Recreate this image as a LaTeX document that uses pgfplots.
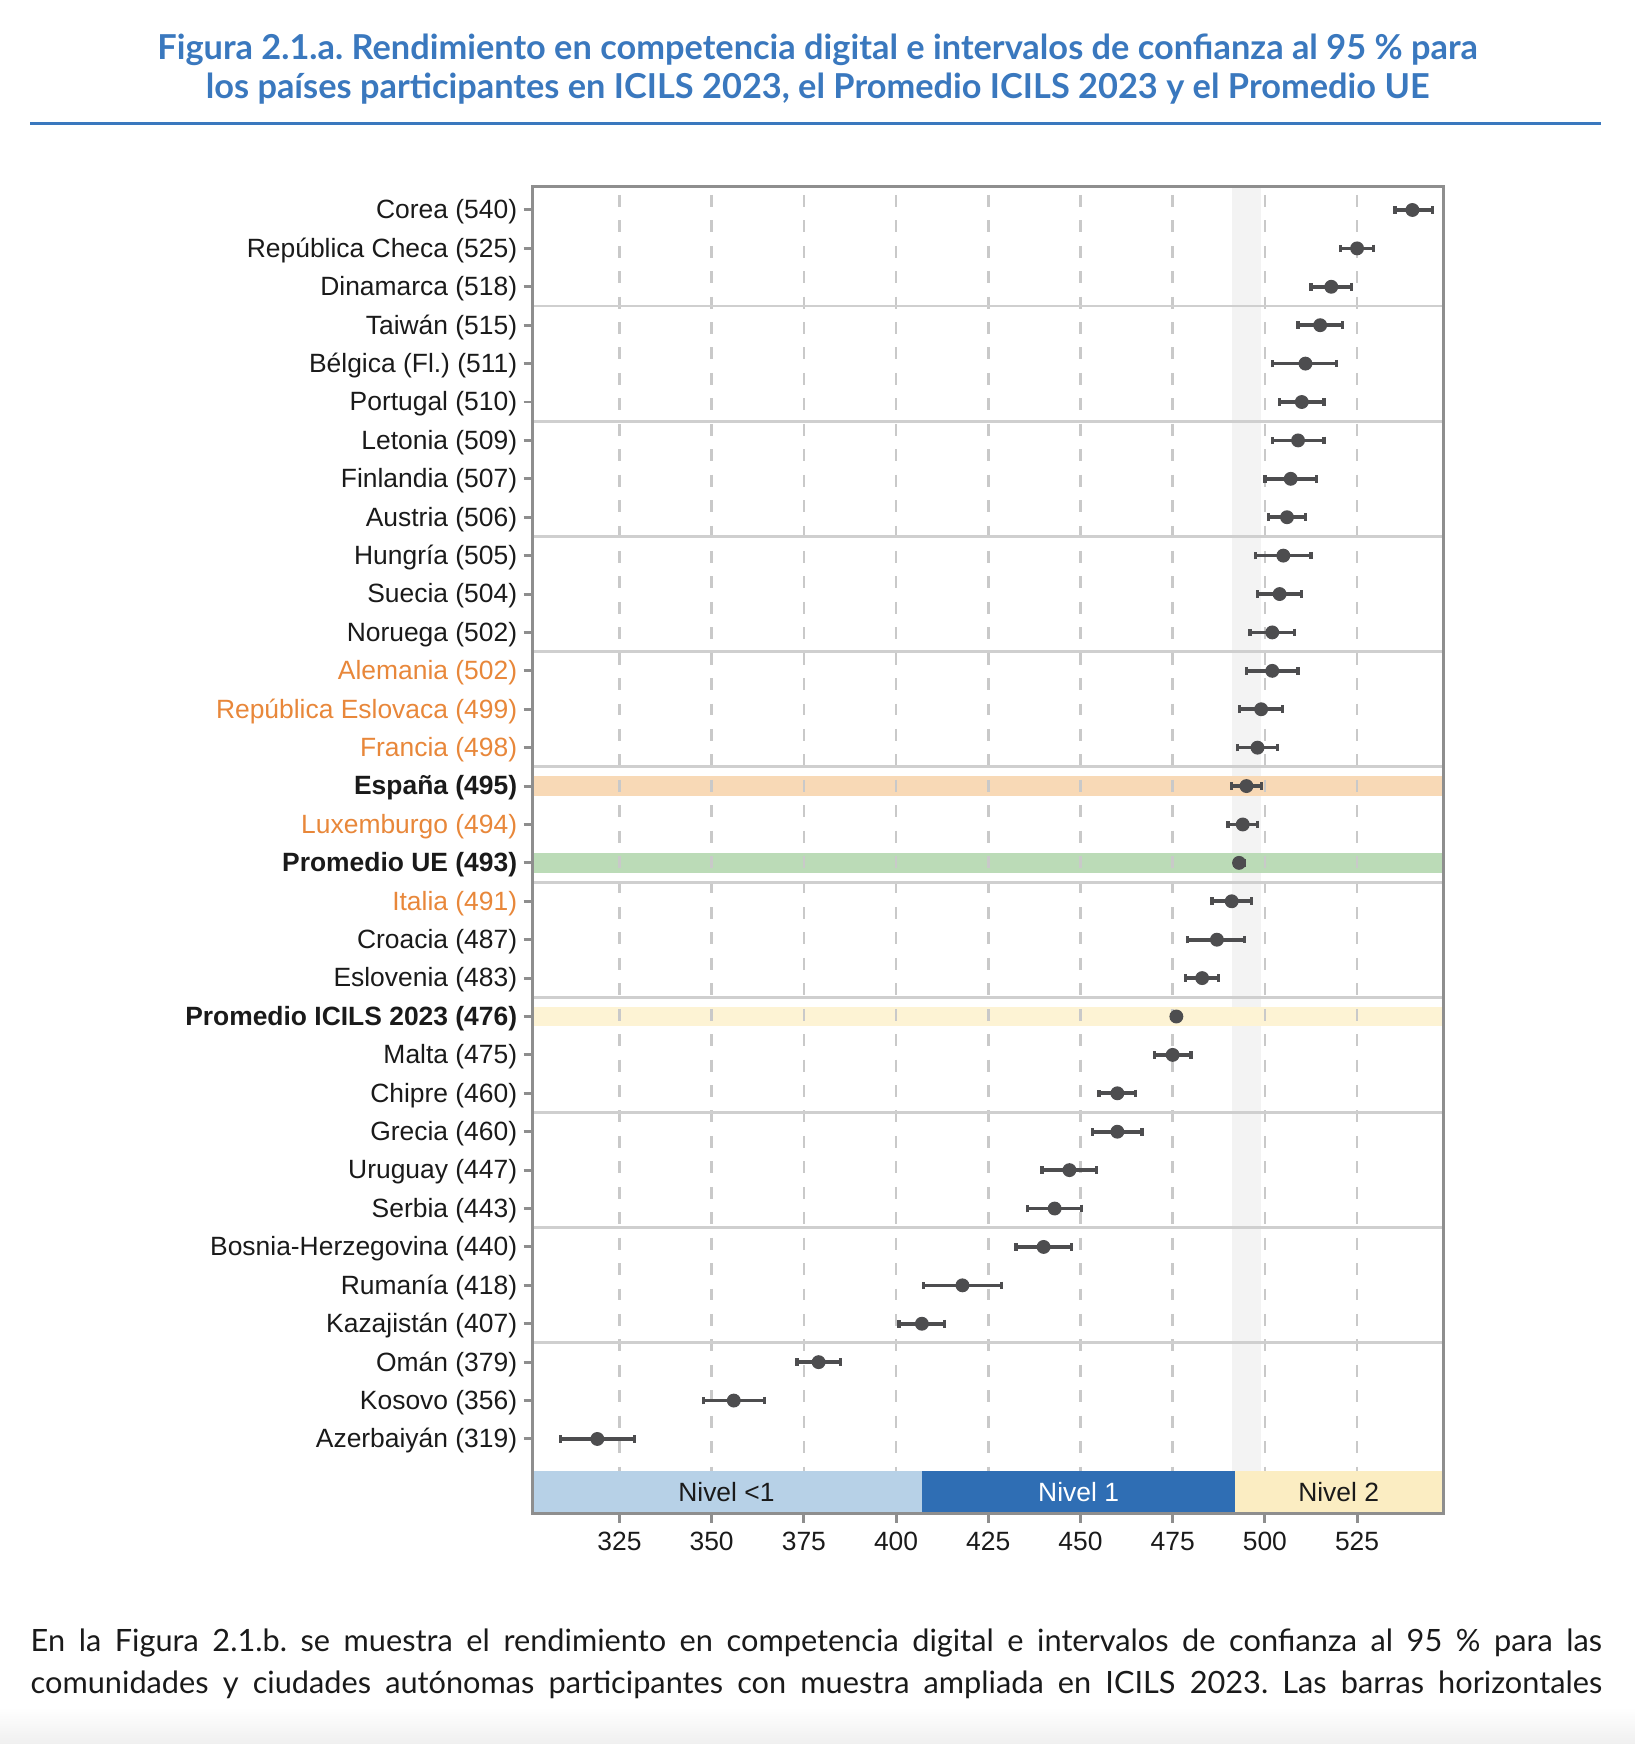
\documentclass[border=0pt]{standalone}
\usepackage{fontspec}
\setmainfont{Liberation Sans}
\newfontfamily\lato{Lato}
\usepackage{pgfplots}
\usepackage{pgfplotstable}
\pgfplotsset{compat=1.18}
\frenchspacing

\definecolor{titleblue}{HTML}{3A78BE}
\definecolor{labor}{HTML}{E8873A}
\definecolor{txt}{HTML}{1A1A1A}
\definecolor{framec}{HTML}{8E8E8E}
\definecolor{gridc}{HTML}{C9C9C9}
\definecolor{sepc}{HTML}{CFCFCF}
\definecolor{ptc}{HTML}{4D4D4F}
\definecolor{spainbg}{HTML}{F8D9B6}
\definecolor{uebg}{HTML}{BBDBB7}
\definecolor{icilsbg}{HTML}{FDF3D4}
\definecolor{cibg}{HTML}{F3F3F3}
\definecolor{lv0}{HTML}{B7D1E7}
\definecolor{lv1}{HTML}{2F6EB4}
\definecolor{lv2}{HTML}{FBEDC2}

% y = -fila (1 = Corea arriba), x = puntuacion, em/ep = IC 95 %
\pgfplotstableread{
y   x    em   ep
-1  540  4.7  5.5
-2  525  4.5  4.5
-3  518  5.5  5.5
-4  515  6.0  6.0
-5  511  9.0  8.5
-6  510  6.0  6.0
-7  509  7.0  7.0
-8  507  7.0  7.0
-9  506  5.0  5.0
-10 505  7.5  7.5
-11 504  6.0  6.0
-12 502  6.0  6.0
-13 502  7.0  7.0
-14 499  5.8  5.8
-15 498  5.5  5.5
-16 495  4.0  4.0
-17 494  4.0  4.0
-18 493  1.3  1.3
-19 491  5.3  5.3
-20 487  8.0  7.5
-21 483  4.5  4.5
-22 476  1.2  1.2
-23 475  5.0  5.0
-24 460  5.0  5.0
-25 460  6.7  6.7
-26 447  7.4  7.4
-27 443  7.3  7.3
-28 440  7.5  7.5
-29 418 10.5 10.5
-30 407  6.2  6.2
-31 379  5.9  5.9
-32 356  8.3  8.3
-33 319 10.0 10.0
}\scores

\begin{document}
\begin{tikzpicture}
\useasboundingbox (0pt,0pt) rectangle (495pt,-528pt);
\shade[top color=white, bottom color=black!6] (0pt,-517pt) rectangle (495pt,-528pt);

\node[font=\lato\bfseries\fontsize{10.4}{11.9}\selectfont, text=titleblue, align=center]
  at (247.5pt,-20.9pt) {Figura 2.1.a. Rendimiento en competencia digital e intervalos de confianza al 95 \% para\\
  los países participantes en ICILS 2023, el Promedio ICILS 2023 y el Promedio UE};
\draw[titleblue, line width=0.8pt] (9.1pt,-37.4pt) -- (484.8pt,-37.4pt);

\begin{axis}[
  at={(161.3pt,-458.2pt)}, anchor=south west,
  scale only axis, width=275.8pt, height=401.7pt,
  xmin=301.5, xmax=548.5, ymin=-34.94, ymax=-0.392,
  axis on top,
  axis line style={framec, line width=0.9pt},
  tick pos=left, tick align=outside,
  major tick length=2.8pt,
  tick style={framec, line width=0.9pt},
  xtick={325,350,...,525},
  ytick={-33,-32,...,-1},
  yticklabels={
    Azerbaiyán (319), Kosovo (356), Omán (379), Kazajistán (407), Rumanía (418),
    Bosnia-Herzegovina (440), Serbia (443), Uruguay (447), Grecia (460), Chipre (460),
    Malta (475), {\bfseries Promedio ICILS 2023 (476)}, Eslovenia (483), Croacia (487),
    {\color{labor}Italia (491)}, {\bfseries Promedio UE (493)}, {\color{labor}Luxemburgo (494)},
    {\bfseries España (495)}, {\color{labor}Francia (498)}, {\color{labor}República Eslovaca (499)},
    {\color{labor}Alemania (502)}, Noruega (502), Suecia (504), Hungría (505), Austria (506),
    Finlandia (507), Letonia (509), Portugal (510), Bélgica (Fl.) (511), Taiwán (515),
    Dinamarca (518), República Checa (525), Corea (540)},
  ticklabel style={font=\fontsize{8}{9.6}\selectfont, text=txt},
  yticklabel style={xshift=1.6pt, yshift=-0.6pt},
  xticklabel style={yshift=0.6pt},
  /pgf/number format/assume math mode=true,
]
% banda gris: IC de España
\addplot[fill=cibg, draw=none] coordinates {(491.2,-0.392) (499,-0.392) (499,-33.84) (491.2,-33.84)} --cycle;
% filas destacadas
\addplot[fill=spainbg, draw=none] coordinates {(301.5,-15.74) (548.5,-15.74) (548.5,-16.26) (301.5,-16.26)} --cycle;
\addplot[fill=uebg, draw=none] coordinates {(301.5,-17.74) (548.5,-17.74) (548.5,-18.26) (301.5,-18.26)} --cycle;
\addplot[fill=icilsbg, draw=none] coordinates {(301.5,-21.74) (548.5,-21.74) (548.5,-22.26) (301.5,-22.26)} --cycle;
% rejilla discontinua
\pgfplotsinvokeforeach{325,350,...,525}{
  \draw[gridc, line width=0.8pt, dash pattern=on 3.6pt off 4.1pt, dash phase=-2.5pt] (axis cs:#1,-0.392) -- (axis cs:#1,-33.84);
}
% separadores cada tres filas
\pgfplotsinvokeforeach{3.5,6.5,9.5,12.5,15.5,18.5,21.5,24.5,27.5,30.5}{
  \draw[sepc, line width=0.9pt] (axis cs:301.5,-#1) -- (axis cs:548.5,-#1);
}
% niveles
\addplot[fill=lv0, draw=none] coordinates {(301.5,-33.84) (407,-33.84) (407,-34.94) (301.5,-34.94)} --cycle;
\addplot[fill=lv1, draw=none] coordinates {(407,-33.84) (492,-33.84) (492,-34.94) (407,-34.94)} --cycle;
\addplot[fill=lv2, draw=none] coordinates {(492,-33.84) (548.5,-33.84) (548.5,-34.94) (492,-34.94)} --cycle;
\node[font=\fontsize{8}{9.6}\selectfont, text=txt] at (axis cs:354,-34.39) {Nivel <1};
\node[font=\fontsize{8}{9.6}\selectfont, text=white] at (axis cs:449.5,-34.39) {Nivel 1};
\node[font=\fontsize{8}{9.6}\selectfont, text=txt] at (axis cs:520,-34.39) {Nivel 2};
% puntuaciones con IC
\addplot[only marks, mark=*, mark size=1.9pt, color=ptc,
  error bars/.cd, x dir=both, x explicit,
  error bar style={line width=1.1pt, color=ptc},
  error mark options={rotate=90, mark size=1.15pt, line width=1.0pt, color=ptc}]
  table[x=x, y=y, x error minus=em, x error plus=ep] {\scores};
\end{axis}

\node[font=\lato\fontsize{9.3}{12.8}\selectfont, text=txt, anchor=west, inner sep=0pt] at (9.1pt,-497.3pt)
  {\makebox[475.7pt][s]{En la Figura 2.1.b. se muestra el rendimiento en competencia digital e intervalos de confianza al 95 \% para las}};
\node[font=\lato\fontsize{9.3}{12.8}\selectfont, text=txt, anchor=west, inner sep=0pt] at (9.1pt,-510.1pt)
  {\makebox[475.7pt][s]{comunidades y ciudades autónomas participantes con muestra ampliada en ICILS 2023. Las barras horizontales}};
\end{tikzpicture}
\end{document}
